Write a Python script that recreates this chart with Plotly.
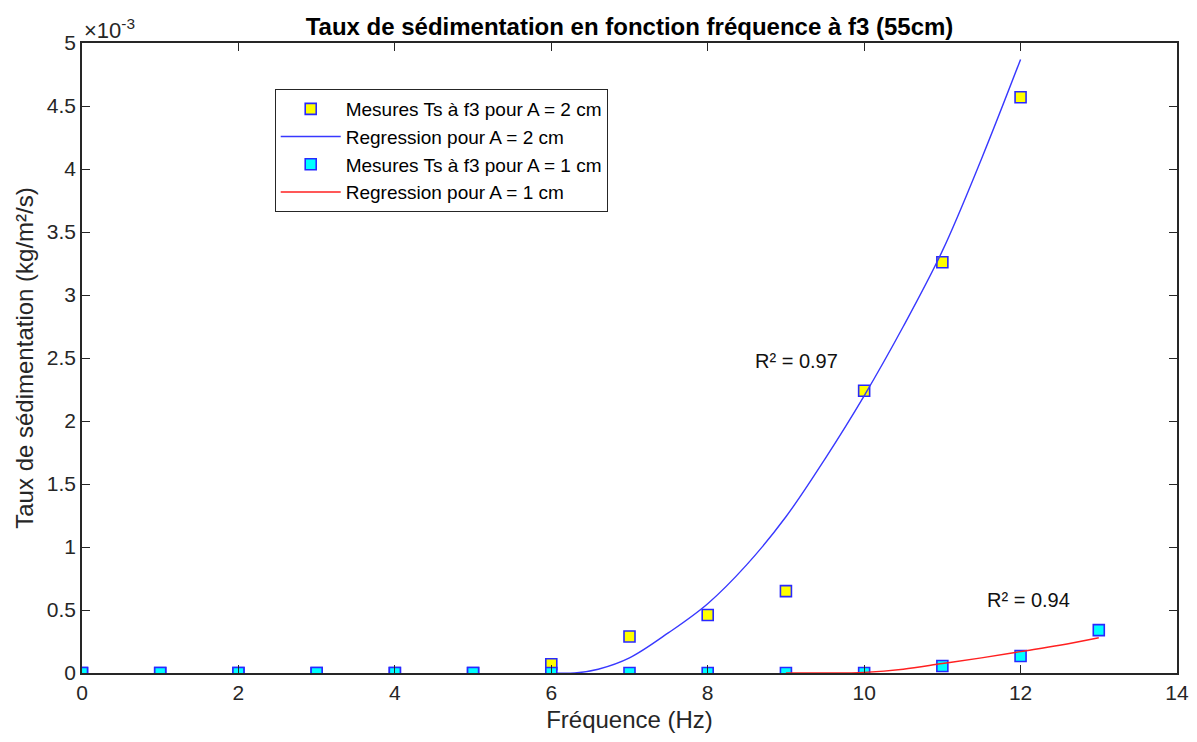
import plotly.graph_objects as go

# Measured data (values in kg/m²/s)
freq_a2 = [0, 1, 2, 3, 4, 5, 6, 7, 8, 9, 10, 11, 12]
ts_a2 = [0, 0, 0, 0, 0, 0, 0.00007, 0.00029, 0.00046, 0.00065, 0.00224, 0.00326, 0.00457]

freq_a1 = [0, 1, 2, 3, 4, 5, 6, 7, 8, 9, 10, 11, 12, 13]
ts_a1 = [0, 0, 0, 0, 0, 0, 0, 0, 0, 0, 0, 0.000055, 0.000135, 0.00034]

# Regression curves
reg_x_a2 = [6, 6.3, 6.6, 7, 7.5, 8, 8.5, 9, 9.5, 10, 10.5, 11, 11.5, 12]
reg_y_a2 = [0, 0, 0.00003, 0.00012, 0.00032, 0.00055, 0.00086, 0.00124, 0.00170, 0.00220, 0.00275, 0.00335, 0.00408, 0.00487]

reg_x_a1 = [9, 9.5, 10, 10.5, 11, 11.5, 12, 12.5, 13]
reg_y_a1 = [0, 0, 0.000005, 0.00003, 0.000075, 0.00012, 0.00017, 0.00022, 0.00028]

y_ticks = [0, 0.0005, 0.001, 0.0015, 0.002, 0.0025, 0.003, 0.0035, 0.004, 0.0045, 0.005]
y_tick_labels = ["0", "0.5", "1", "1.5", "2", "2.5", "3", "3.5", "4", "4.5", "5"]
x_ticks = [0, 2, 4, 6, 8, 10, 12, 14]

FONT = "Arial, Liberation Sans, Helvetica, sans-serif"
AX = "#262626"

fig = go.Figure()
fig.add_trace(go.Scatter(
    x=freq_a2, y=ts_a2, mode="markers", name="Mesures Ts à f3 pour A = 2 cm",
    marker=dict(symbol="square", size=11, color="#ffff00", line=dict(color="#2828ff", width=1.6)),
))
fig.add_trace(go.Scatter(
    x=reg_x_a2, y=reg_y_a2, mode="lines", name="Regression pour A = 2 cm",
    line=dict(color="#3838ff", width=1.4, shape="spline", smoothing=1),
))
fig.add_trace(go.Scatter(
    x=freq_a1, y=ts_a1, mode="markers", name="Mesures Ts à f3 pour A = 1 cm",
    marker=dict(symbol="square", size=11, color="#00ffff", line=dict(color="#2828ff", width=1.6)),
))
fig.add_trace(go.Scatter(
    x=reg_x_a1, y=reg_y_a1, mode="lines", name="Regression pour A = 1 cm",
    line=dict(color="#ff2020", width=1.4, shape="spline", smoothing=1),
))

fig.add_annotation(x=9.14, y=0.00248, text="R² = 0.97", showarrow=False,
                   font=dict(family=FONT, size=20, color="#111111"))
fig.add_annotation(x=12.1, y=0.00058, text="R² = 0.94", showarrow=False,
                   font=dict(family=FONT, size=20, color="#111111"))
fig.add_annotation(xref="paper", yref="paper", x=0.0, y=1.0, xanchor="left", yanchor="bottom",
                   text="×10<sup>-3</sup>", showarrow=False, yshift=-2,
                   font=dict(family=FONT, size=22, color=AX))

fig.update_layout(
    width=1197, height=742,
    margin=dict(l=74, r=28, t=35, b=77),
    paper_bgcolor="white", plot_bgcolor="white",
    font=dict(family=FONT, size=21, color=AX),
    title=dict(text="<b>Taux de sédimentation en fonction fréquence à f3 (55cm)</b>",
               x=621.5 / 1197, xanchor="center", y=1 - 19 / 742, yanchor="middle",
               font=dict(family=FONT, size=24, color="#000000")),
    showlegend=True,
    legend=dict(x=0.176, y=0.927, xanchor="left", yanchor="top",
                bgcolor="white", bordercolor=AX, borderwidth=1,
                font=dict(family=FONT, size=19, color="#000000"),
                tracegroupgap=0, itemwidth=60, entrywidth=340, entrywidthmode="pixels"),
    xaxis=dict(range=[0, 14], tickvals=x_ticks, showgrid=False, zeroline=False,
               showline=True, linecolor=AX, linewidth=1.5, mirror="ticks",
               ticks="inside", ticklen=8, tickcolor=AX, tickwidth=1.3,
               tickfont=dict(family=FONT, size=21, color=AX),
               title=dict(text="Fréquence (Hz)", font=dict(family=FONT, size=24, color=AX), standoff=8)),
    yaxis=dict(range=[0, 0.005], tickvals=y_ticks, ticktext=y_tick_labels, showgrid=False, zeroline=False,
               showline=True, linecolor=AX, linewidth=1.5, mirror="ticks",
               ticks="inside", ticklen=8, tickcolor=AX, tickwidth=1.3,
               tickfont=dict(family=FONT, size=21, color=AX),
               title=dict(text="Taux de sédimentation (kg/m²/s)", font=dict(family=FONT, size=24, color=AX), standoff=6)),
)

fig.write_html("out.html")
